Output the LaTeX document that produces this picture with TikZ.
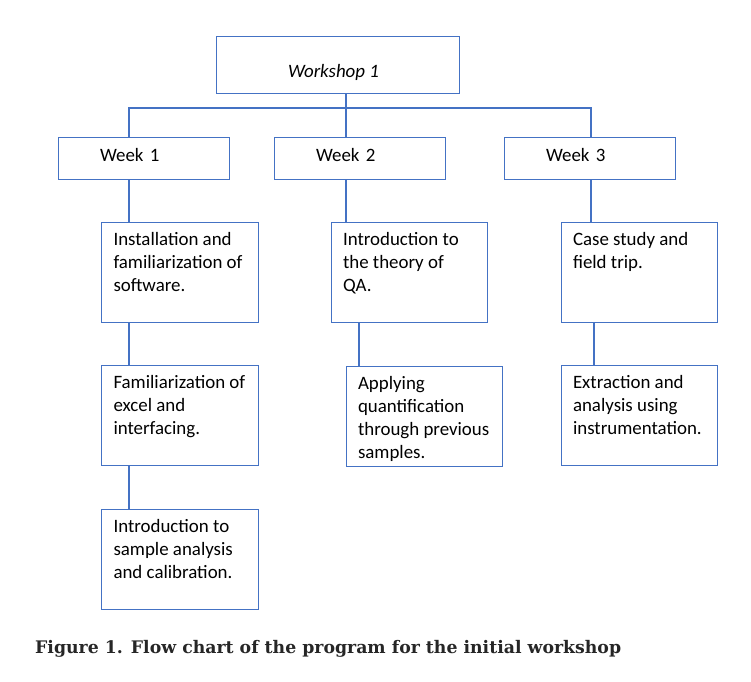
\documentclass[tikz,border=0pt]{standalone}
\usepackage{fontspec}
\setmainfont{Carlito}
\newfontfamily\captionfont{DejaVu Serif}
\usepackage{tikz}
\usetikzlibrary{positioning}
\definecolor{lineblue}{RGB}{68,114,196}
\newcommand{\boxfont}{\fontsize{18.9pt}{23pt}\selectfont}
\tikzstyle{topbox} = [rectangle, draw=lineblue, line width=1pt, minimum width=243pt, minimum height=57.5pt, inner sep=0pt, font=\boxfont\itshape]
\tikzstyle{weekbox} = [rectangle, draw=lineblue, line width=1pt, minimum height=42pt, text width=87pt, inner xsep=42pt, inner ysep=0pt, align=left, font=\boxfont]
\tikzstyle{stepbox} = [rectangle, draw=lineblue, line width=1pt, inner sep=0pt, font=\boxfont]
\tikzstyle{link} = [draw=lineblue, line width=1.7pt, line cap=rect]
\newcommand{\steptext}[1]{\parbox[c][100pt][t]{156.5pt}{\raggedright\leftskip=12pt\rule{0pt}{23pt}#1}}

\begin{document}
\begin{tikzpicture}[x=1pt, y=-1pt]

\fill[white] (0,0) rectangle (751,681);
\useasboundingbox (0,0) rectangle (751,681);

% Nodes
\node (ws) [topbox] at (338,65) {\raisebox{-12pt}[0pt][0pt]{\kern-9pt Workshop 1}};
\node (w2) [weekbox, below=42.5pt of ws, xshift=21.5pt] {\raisebox{-3pt}[0pt][0pt]{Week 2}};
\node (w1) [weekbox, left=44pt of w2] {\raisebox{-3pt}[0pt][0pt]{Week 1}};
\node (w3) [weekbox, right=58pt of w2] {\raisebox{-3pt}[0pt][0pt]{Week 3}};

\node (b1a) [stepbox, below right=42pt and 43.5pt of w1.south west] {\steptext{Installation and\\familiarization of\\software.}};
\node (b1b) [stepbox, below=42pt of b1a] {\steptext{Familiarization of\\excel and\\interfacing.}};
\node (b1c) [stepbox, below=43pt of b1b] {\steptext{Introduction to\\sample analysis\\and calibration.}};

\node (b2a) [stepbox, below right=42pt and 57pt of w2.south west] {\steptext{Introduction to\\the theory of\\QA.}};
\node (b2b) [stepbox, below right=43pt and 15pt of b2a.south west] {\steptext{Applying\\quantification\\through previous\\samples.}};

\node (b3a) [stepbox, below right=42pt and 57pt of w3.south west] {\steptext{Case study and\\field trip.}};
\node (b3b) [stepbox, below=42pt of b3a] {\steptext{Extraction and\\analysis using\\instrumentation.}};

\node (cap) [anchor=base west, inner sep=0pt, font=\captionfont\bfseries\fontsize{17.3pt}{20pt}\selectfont, text=black!85] at (35,653) {Figure 1. Flow chart of the program for the initial workshop};

% Lines
\coordinate (c1) at (129,108);
\coordinate (c2) at (346,108);
\coordinate (c3) at (591,108);
\draw [link] (c1) -- (c3);
\draw [link] (ws.south -| c2) -- (c2 |- w2.north);
\draw [link] (c1) -- (c1 |- w1.north);
\draw [link] (c3) -- (c3 |- w3.north);

\draw [link] (w1.south -| c1) -- (c1 |- b1a.north);
\draw [link] (b1a.south -| c1) -- (c1 |- b1b.north);
\draw [link] (b1b.south -| c1) -- (c1 |- b1c.north);
\draw [link] (w2.south -| c2) -- (c2 |- b2a.north);
\draw [link] ([xshift=28.5pt]b2a.south west) -- ([xshift=28.5pt]b2a.south west |- b2b.north);
\draw [link] (w3.south -| c3) -- (c3 |- b3a.north);
\draw [link] ([xshift=33.5pt]b3a.south west) -- ([xshift=33.5pt]b3a.south west |- b3b.north);

\end{tikzpicture}
\end{document}
